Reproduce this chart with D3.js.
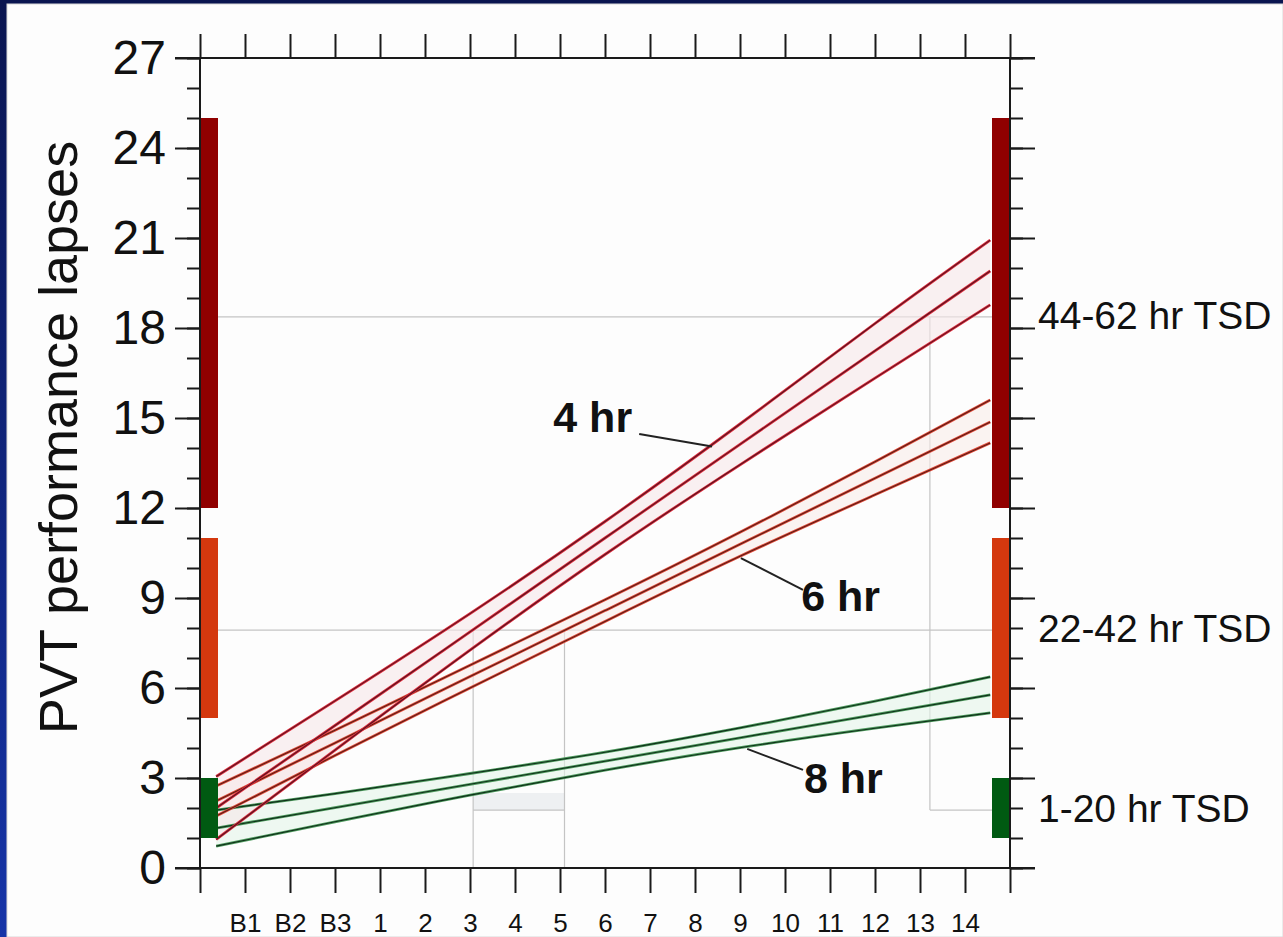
<!DOCTYPE html>
<html>
<head>
<meta charset="utf-8">
<script src="https://cdn.jsdelivr.net/npm/d3@7"></script>
<style>
  body { margin: 0; background: #0b1756; }
  text { font-family: "Liberation Sans", Arial, sans-serif; fill: #111; }
</style>
</head>
<body>
<div class="chart"></div>
<script>
// tick labels along the bottom (index 0 and 18 are the frame ends)
const dayLabels = ["", "B1", "B2", "B3", "1", "2", "3", "4", "5", "6", "7", "8", "9", "10", "11", "12", "13", "14", ""]
const yTicks = [0, 3, 6, 9, 12, 15, 18, 21, 24, 27]

// day index where the curves were read
const sampleX = [0.36, 3, 6, 9, 12, 15, 17.56]

// lapses: upper band, fitted line, lower band
const hr4Up  = [3.05, 5.57, 8.48, 11.55, 14.8, 18.15, 20.93]
const hr4Fit = [2.0, 4.75, 7.87, 11.0, 14.12, 17.24, 19.9]
const hr4Low = [0.95, 3.93, 7.26, 10.45, 13.44, 16.33, 18.77]

const hr6Up  = [2.73, 4.59, 6.76, 8.94, 11.19, 13.54, 15.6]
const hr6Fit = [2.23, 4.17, 6.38, 8.58, 10.79, 12.99, 14.87]
const hr6Low = [1.73, 3.75, 6.0, 8.22, 10.39, 12.44, 14.17]

const hr8Up  = [1.93, 2.48, 3.15, 3.86, 4.67, 5.56, 6.37]
const hr8Fit = [1.33, 2.01, 2.79, 3.56, 4.34, 5.11, 5.77]
const hr8Low = [0.73, 1.54, 2.43, 3.26, 4.01, 4.66, 5.17]

// total sleep deprivation ranges [low, high]
const tsdNames = ["44-62 hr TSD", "22-42 hr TSD", "1-20 hr TSD"]
const tsdRanges = [[12, 25], [5, 11], [1, 3]]
const tsdLevels = [18.37, 7.93, 1.93]
// day index where the fitted lines reach the tsd level
const crossX = [[16.22], [6.07, 8.1]]

const W = 1283, H = 937

const svg = d3.select(".chart").append("svg")
  .attr("width", W)
  .attr("height", H)

const defs = svg.append("defs")
const grad = defs.append("linearGradient").attr("id", "bg")
  .attr("x1", 0).attr("y1", 0).attr("x2", 0).attr("y2", 1)
grad.append("stop").attr("offset", "0%").attr("stop-color", "#0a1550")
grad.append("stop").attr("offset", "100%").attr("stop-color", "#1634a8")

svg.append("rect").attr("width", W).attr("height", H).attr("fill", "url(#bg)")
svg.append("rect")
  .attr("x", 7).attr("y", 4)
  .attr("width", W - 7).attr("height", H - 4)
  .attr("fill", "#fdfdfd")
  .attr("stroke", "#d8d8d8")

const x = d3.scaleLinear().domain([0, 18]).range([200, 1010])
const y = d3.scaleLinear().domain([0, 27]).range([868, 58])

const g = svg.append("g")

// faint reference lines for the tsd levels
const ref = g.append("g").attr("stroke", "#c4c4c4").attr("stroke-width", 1.2).attr("fill", "none")
ref.append("rect")
  .attr("x", x(crossX[1][0])).attr("width", x(crossX[1][1]) - x(crossX[1][0]))
  .attr("y", y(2.5)).attr("height", y(tsdLevels[2]) - y(2.5))
  .attr("fill", "#eef0f2").attr("stroke", "none")
ref.append("line").attr("x1", x(0)).attr("x2", x(17.6)).attr("y1", y(tsdLevels[0])).attr("y2", y(tsdLevels[0]))
ref.append("line").attr("x1", x(crossX[0][0])).attr("x2", x(crossX[0][0])).attr("y1", y(tsdLevels[0])).attr("y2", y(tsdLevels[2]))
ref.append("line").attr("x1", x(crossX[0][0])).attr("x2", x(17.6)).attr("y1", y(tsdLevels[2])).attr("y2", y(tsdLevels[2]))
ref.append("line").attr("x1", x(0)).attr("x2", x(17.6)).attr("y1", y(tsdLevels[1])).attr("y2", y(tsdLevels[1]))
crossX[1].forEach(c => {
  ref.append("line").attr("x1", x(c)).attr("x2", x(c)).attr("y1", y(tsdLevels[1])).attr("y2", y(0))
})
ref.append("line").attr("x1", x(crossX[1][0])).attr("x2", x(crossX[1][1])).attr("y1", y(tsdLevels[2])).attr("y2", y(tsdLevels[2]))

// bands + lines
const conditions = [
  { lines: [hr8Up, hr8Fit, hr8Low], band: "#e4f5ea", outer: "#4c9a5c", inner: "#10301a" },
  { lines: [hr6Up, hr6Fit, hr6Low], band: "#f9ecea", outer: "#e24a3a", inner: "#5a1c14" },
  { lines: [hr4Up, hr4Fit, hr4Low], band: "#f7e8ea", outer: "#e02a3c", inner: "#581620" }
]

const line = d3.line()
  .x((d, i) => x(sampleX[i]))
  .y(d => y(d))
  .curve(d3.curveNatural)

conditions.forEach(c => {
  const top = c.lines[0], bot = c.lines[2]
  const area = d3.area()
    .x((d, i) => x(sampleX[i]))
    .y0((d, i) => y(bot[i]))
    .y1((d, i) => y(top[i]))
    .curve(d3.curveNatural)
  g.append("path").datum(top).attr("d", area).attr("fill", c.band).attr("opacity", 0.6)
})
conditions.forEach(c => {
  c.lines.forEach(l => {
    g.append("path").datum(l).attr("d", line)
      .attr("fill", "none").attr("stroke", c.outer).attr("stroke-width", 2.8)
    g.append("path").datum(l).attr("d", line)
      .attr("fill", "none").attr("stroke", c.inner).attr("stroke-width", 1.1)
  })
})

// tsd bars on both sides
const barColors = ["#900000", "#d4380e", "#005a12"]
const sides = [[0, 0.4], [17.6, 18]]
sides.forEach(s => {
  g.selectAll(null).data(tsdRanges).enter().append("rect")
    .attr("x", x(s[0]))
    .attr("width", x(s[1]) - x(s[0]))
    .attr("y", d => y(d[1]))
    .attr("height", d => y(d[0]) - y(d[1]))
    .attr("fill", (d, i) => barColors[i])
})

// axes
function styleAxis(sel) {
  sel.select(".domain").remove()
  sel.selectAll(".tick line").attr("stroke", "#1a1a1a").attr("stroke-width", 2)
}

g.append("g").attr("transform", `translate(${x(0)},0)`)
  .call(d3.axisLeft(y).tickValues(d3.range(0, 28)).tickSize(13).tickFormat(""))
  .call(styleAxis)
const yl = g.append("g").attr("transform", `translate(${x(0)},0)`)
  .call(d3.axisLeft(y).tickValues(yTicks).tickSize(25).tickPadding(9))
  .call(styleAxis)
yl.selectAll("text").attr("font-size", 48).attr("fill", "#111")
  .attr("font-family", "Liberation Sans, Arial, sans-serif")

g.append("g").attr("transform", `translate(${x(18)},0)`)
  .call(d3.axisRight(y).tickValues(d3.range(0, 28)).tickSize(13).tickFormat(""))
  .call(styleAxis)
g.append("g").attr("transform", `translate(${x(18)},0)`)
  .call(d3.axisRight(y).tickValues(yTicks).tickSize(25).tickFormat(""))
  .call(styleAxis)

g.append("g").attr("transform", `translate(0,${y(27)})`)
  .call(d3.axisTop(x).tickValues(d3.range(0, 19)).tickSize(24).tickFormat(""))
  .call(styleAxis)
const xb = g.append("g").attr("transform", `translate(0,${y(0)})`)
  .call(d3.axisBottom(x).tickValues(d3.range(0, 19)).tickSize(25).tickPadding(21)
    .tickFormat(i => dayLabels[i]))
  .call(styleAxis)
xb.selectAll("text").attr("font-size", 26).attr("fill", "#222")
  .attr("font-family", "Liberation Sans, Arial, sans-serif")

// frame
const frame = g.append("g").attr("stroke", "#1a1a1a").attr("stroke-width", 2)
frame.append("line").attr("x1", x(0) - 25).attr("x2", x(18) + 25).attr("y1", y(27)).attr("y2", y(27))
frame.append("line").attr("x1", x(0) - 25).attr("x2", x(18) + 25).attr("y1", y(0)).attr("y2", y(0))
frame.append("line").attr("x1", x(0)).attr("x2", x(0)).attr("y1", y(27)).attr("y2", y(0))
frame.append("line").attr("x1", x(18)).attr("x2", x(18)).attr("y1", y(27)).attr("y2", y(0))

// right side labels
g.selectAll(".tsd").data(tsdNames).enter().append("text")
  .attr("x", x(18) + 28)
  .attr("y", (d, i) => y(tsdLevels[i]))
  .attr("dy", "0.3em")
  .attr("font-size", 39)
  .text(d => d)

// y title
svg.append("text")
  .attr("transform", `translate(77,${y(14.35)}) rotate(-90)`)
  .attr("text-anchor", "middle")
  .attr("font-size", 54)
  .text("PVT performance lapses")

// condition labels with leaders (placed through the scales)
const notes = [
  { text: "4 hr", tx: 7.85, ty: 14.55, from: [9.76, 14.47], to: [11.38, 14.05] },
  { text: "6 hr", tx: 13.36, ty: 8.58, from: [13.4, 9.27], to: [12.02, 10.33] },
  { text: "8 hr", tx: 13.42, ty: 2.5, from: [13.4, 3.27], to: [12.16, 3.97] }
]
notes.forEach(n => {
  g.append("line")
    .attr("x1", x(n.from[0])).attr("y1", y(n.from[1]))
    .attr("x2", x(n.to[0])).attr("y2", y(n.to[1]))
    .attr("stroke", "#222").attr("stroke-width", 2)
  g.append("text")
    .attr("x", x(n.tx)).attr("y", y(n.ty))
    .attr("font-size", 43).attr("font-weight", "bold")
    .text(n.text)
})
</script>
</body>
</html>
